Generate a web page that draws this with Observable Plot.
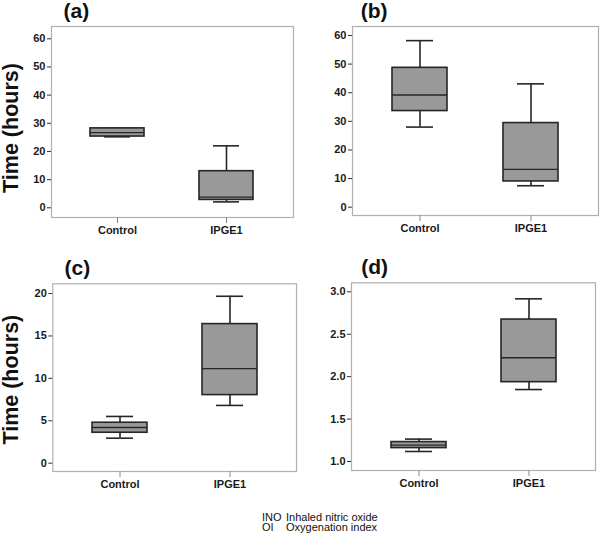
<!DOCTYPE html>
<html>
<head>
<meta charset="utf-8">
<script src="https://cdn.jsdelivr.net/npm/d3@7"></script>
<script src="https://cdn.jsdelivr.net/npm/@observablehq/plot@0.6"></script>
<style>
  html, body { margin: 0; padding: 0; background: #fff; }
  #root { position: relative; width: 600px; height: 537px; overflow: hidden; font-family: "Liberation Sans", Arial, sans-serif; }
  .panel { position: absolute; }
  .cap { position: absolute; font-family: "Liberation Sans", Arial, sans-serif; font-size: 11px; color: #111; white-space: pre; line-height: 10.2px; }
</style>
</head>
<body>
<div id="root"></div>
<script>
// ---- data ----
const groups = ["Control", "IPGE1"];
const panelLabels = ["(a)", "(b)", "(c)", "(d)"];
const yTitle = "Time (hours)";
// five-number summaries: [min, q1, median, q3, max]
const aControl = [25.2, 25.3, 26.7, 28.2, 28.2];
const aIPGE1   = [2.1, 2.8, 3.8, 13.0, 22.0];
const bControl = [28.0, 33.6, 39.2, 48.7, 58.2];
const bIPGE1   = [7.5, 9.0, 13.2, 29.4, 43.1];
const cControl = [2.95, 3.59, 4.21, 4.77, 5.51];
const cIPGE1   = [6.81, 8.03, 11.15, 16.4, 19.68];
const dControl = [1.118, 1.158, 1.193, 1.229, 1.264];
const dIPGE1   = [1.848, 1.935, 2.222, 2.673, 2.917];
const ticksAB = [0, 10, 20, 30, 40, 50, 60];
const ticksC  = [0, 5, 10, 15, 20];
const ticksD  = [1.0, 1.5, 2.0, 2.5, 3.0];
const captionAbbr = ["INO", "OI"];
const captionText = ["Inhaled nitric oxide", "Oxygenation index"];

function rowsOf(ctrl, ipge) {
  return [ctrl, ipge].map((s, i) => ({group: groups[i], min: s[0], q1: s[1], med: s[2], q3: s[3], max: s[4]}));
}

const DARK = "#262626";

function panel(cfg) {
  const rows = rowsOf(cfg.ctrl, cfg.ipge);
  const marks = [
    Plot.frame({stroke: "#b0b0b0", strokeWidth: 1.2}),
    Plot.axisY({ticks: cfg.ticks, tickFormat: cfg.fmt, tickSize: 4, tickPadding: 2, stroke: "#333", label: null, fontWeight: "bold", fontSize: 11}),
    Plot.axisX({tickSize: 6, tickPadding: 3, stroke: "#888", label: null, fontWeight: "bold", fontSize: 11}),
    Plot.ruleX(rows, {x: "group", y1: "min", y2: "max", stroke: DARK, strokeWidth: 1.6}),
    Plot.tickY(rows, {x: "group", y: "min", stroke: DARK, strokeWidth: 1.6, insetLeft: 14, insetRight: 14}),
    Plot.tickY(rows, {x: "group", y: "max", stroke: DARK, strokeWidth: 1.6, insetLeft: 14, insetRight: 14}),
    Plot.barY(rows, {x: "group", y1: "q1", y2: "q3", fill: "#999999", stroke: DARK, strokeWidth: 1.6}),
    Plot.tickY(rows, {x: "group", y: "med", stroke: DARK, strokeWidth: 1.4}),
    Plot.text([cfg.label], {frameAnchor: "top-left", textAnchor: "start", lineAnchor: "bottom", dx: cfg.labelDx, dy: -9, fontSize: 21, fontWeight: "bold", fill: "#111"})
  ];
  if (cfg.title) {
    marks.push(Plot.text([yTitle], {frameAnchor: "left", rotate: -90, textAnchor: "middle", lineAnchor: "middle", dx: cfg.titleDx, dy: cfg.titleDy, fontSize: 21.5, fontWeight: "bold", fill: "#111"}));
  }
  const svg = Plot.plot({
    width: 300,
    height: cfg.height,
    marginLeft: cfg.ml, marginRight: cfg.mr, marginTop: cfg.mt, marginBottom: cfg.mb,
    style: {fontFamily: "'Liberation Sans', Arial, sans-serif", fontSize: "11px", color: "#1a1a1a", background: "transparent", overflow: "visible"},
    x: {type: "band", domain: groups, paddingInner: 0.502, paddingOuter: 0.357},
    y: {domain: cfg.domain},
    marks
  });
  const div = document.createElement("div");
  div.className = "panel";
  div.style.left = cfg.left + "px";
  div.style.top = cfg.top + "px";
  div.appendChild(svg);
  return div;
}

const root = document.getElementById("root");
const fmt1 = d3.format(".1f");
const cfgs = [
  {label: panelLabels[0], ctrl: aControl, ipge: aIPGE1, ticks: ticksAB, fmt: d3.format("d"), domain: [-3.44, 64.36],
   left: 0, top: 0, height: 245, ml: 51, mr: 7, mt: 26, mb: 28, labelDx: 12, title: true, titleDx: -40.4, titleDy: 6},
  {label: panelLabels[1], ctrl: bControl, ipge: bIPGE1, ticks: ticksAB, fmt: d3.format("d"), domain: [-2.9, 63.14],
   left: 300, top: 0, height: 245, ml: 52, mr: 2, mt: 26, mb: 30, labelDx: 8.3, title: false},
  {label: panelLabels[2], ctrl: cControl, ipge: cIPGE1, ticks: ticksC, fmt: d3.format("d"), domain: [-0.98, 21.15],
   left: 0, top: 250, height: 255, ml: 52.3, mr: 4, mt: 33.3, mb: 34, labelDx: 11.7, title: true, titleDx: -41.7, titleDy: 2},
  {label: panelLabels[3], ctrl: dControl, ipge: dIPGE1, ticks: ticksD, fmt: fmt1, domain: [0.894, 3.106],
   left: 300, top: 250, height: 255, ml: 51, mr: 5, mt: 32.3, mb: 35, labelDx: 9.7, title: false}
];
cfgs.forEach(c => root.appendChild(panel(c)));

// caption: two columns, each one text block with two lines
const colA = document.createElement("div");
colA.className = "cap";
colA.style.left = "262px"; colA.style.top = "511.5px";
colA.textContent = captionAbbr.join("\n");
root.appendChild(colA);
const colB = document.createElement("div");
colB.className = "cap";
colB.style.left = "286px"; colB.style.top = "511.5px";
colB.textContent = captionText.join("\n");
root.appendChild(colB);
</script>
</body>
</html>
